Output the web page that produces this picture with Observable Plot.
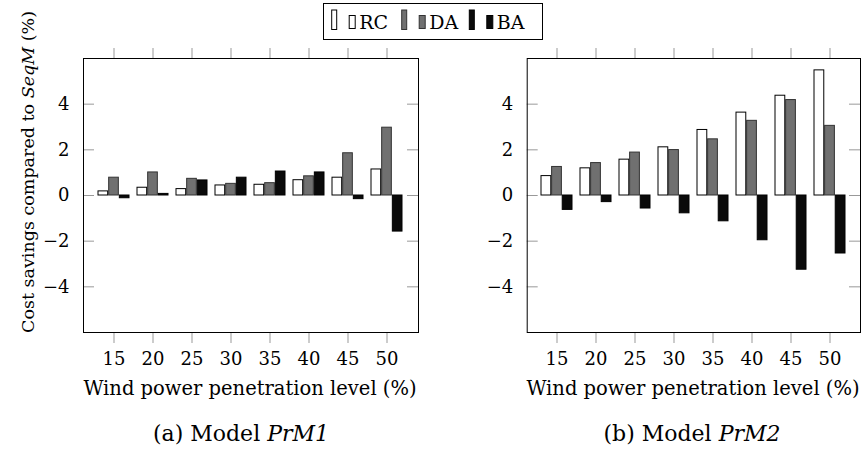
<!DOCTYPE html>
<html><head><meta charset="utf-8">
<script src="https://cdn.jsdelivr.net/npm/d3@7"></script>
<script src="https://cdn.jsdelivr.net/npm/@observablehq/plot@0.6"></script>
<style>
body{margin:0;background:#fff;width:861px;height:452px;overflow:hidden;position:relative;font-family:"DejaVu Serif",serif;color:#000}
#left,#right{position:absolute;top:0}
#left{left:0}
#right{left:430px}
#overlay{position:absolute;left:0;top:0;pointer-events:none}
#overlay text{font-family:"DejaVu Serif",serif;fill:#000}
</style></head><body>
<div id="left"></div>
<div id="right"></div>
<svg id="overlay" width="861" height="452"></svg>
<script>
// ---- data ----
const levels = [15, 20, 25, 30, 35, 40, 45, 50];
const series = ["RC", "DA", "BA"];
const prm1RC = [0.18, 0.34, 0.28, 0.44, 0.47, 0.67, 0.78, 1.14];
const prm1DA = [0.78, 1.01, 0.73, 0.51, 0.54, 0.84, 1.85, 2.97];
const prm1BA = [-0.12, 0.07, 0.66, 0.78, 1.05, 1.01, -0.16, -1.58];
const prm2RC = [0.85, 1.19, 1.57, 2.11, 2.87, 3.63, 4.37, 5.48];
const prm2DA = [1.25, 1.42, 1.88, 1.99, 2.46, 3.27, 4.18, 3.05];
const prm2BA = [-0.63, -0.29, -0.57, -0.78, -1.13, -1.96, -3.25, -2.54];
const yTicks = [-4, -2, 0, 2, 4];
const yDomain = [-6, 6];
const xLabel = "Wind power penetration level (%)";

// ---- styles ----
const fills = ["#ffffff", "#707070", "#0a0a0a"];
const strokes = ["#000000", "#333333", "#000000"];

function panel(vals, W, ml, mr) {
  const H = 400, mt = 58, mb = 68;
  const pw = W - ml - mr;
  const pi = 0.194, po = 0.316;
  const bw = pw / (levels.length - pi + 2 * po) * (1 - pi);
  const third = bw / 3;
  const bars = series.map((s, i) => {
    const rows = levels.map((l, j) => ({level: l, series: s, value: vals[i][j]}));
    return Plot.barY(rows, {
      x: "level", y: "value",
      fill: fills[i], stroke: strokes[i], strokeWidth: 1,
      insetLeft: i * third, insetRight: (2 - i) * third
    });
  });
  return Plot.plot({
    width: W, height: H,
    marginTop: mt, marginBottom: mb, marginLeft: ml, marginRight: mr,
    style: {fontFamily: "DejaVu Serif", fontSize: "18px", background: "transparent", overflow: "visible", color: "#000"},
    x: {type: "band", domain: levels, paddingInner: pi, paddingOuter: po},
    y: {domain: yDomain},
    marks: [
      ...bars,
      Plot.tickY(yTicks, {y: d => d, insetRight: pw - 11, stroke: "#999"}),
      Plot.tickY(yTicks, {y: d => d, insetLeft: pw - 11, stroke: "#999"}),
      Plot.axisX({anchor: "bottom", tickSize: 11, tickPadding: 9, stroke: "#999", fill: "#000", label: null}),
      Plot.axisX({anchor: "top", tickSize: 11, stroke: "#999", fill: "none", label: null}),
      Plot.axisY(yTicks, {anchor: "left", tickSize: 0, tickPadding: 14, fill: "#000", label: null}),
      Plot.frame({stroke: "#000"})
    ]
  });
}

document.getElementById("left").append(panel([prm1RC, prm1DA, prm1BA], 430, 83, 12));
document.getElementById("right").append(panel([prm2RC, prm2DA, prm2BA], 431, 96.7, 1));

// ---- labels, captions, legend (text) ----
const ov = d3.select("#overlay");
function txt(x, y, size, parts, rotate) {
  const t = ov.append("text")
    .attr("x", x).attr("y", y)
    .attr("text-anchor", "middle")
    .style("font-size", size + "px");
  if (rotate) t.attr("transform", `rotate(-90 ${x} ${y})`);
  parts.forEach(p => {
    t.append("tspan").text(p.t).style("font-style", p.i ? "italic" : "normal");
  });
  return t;
}
txt(250, 395, 19.5, [{t: xLabel}]);
txt(693, 395, 19.5, [{t: xLabel}]);
txt(241, 441, 22, [{t: "(a) Model "}, {t: "PrM1", i: true}]);
txt(692, 441, 22, [{t: "(b) Model "}, {t: "PrM2", i: true}]);
txt(34, 172, 17.5, [{t: "Cost savings compared to "}, {t: "SeqM", i: true}, {t: " (%)"}], true);

// legend
ov.append("rect").attr("x", 323.5).attr("y", 3.5).attr("width", 219).attr("height", 36)
  .attr("fill", "#fff").attr("stroke", "#000");
const legX = [331.7, 401.7, 469.3];
series.forEach((s, i) => {
  const x0 = legX[i];
  ov.append("rect").attr("x", x0).attr("y", 10).attr("width", 5).attr("height", 19.5)
    .attr("fill", fills[i]).attr("stroke", strokes[i]).attr("stroke-width", 1);
  ov.append("rect").attr("x", x0 + 17.5).attr("y", 15.5).attr("width", 6).attr("height", 13)
    .attr("fill", fills[i]).attr("stroke", strokes[i]).attr("stroke-width", 1);
  ov.append("text").attr("x", x0 + 27.5).attr("y", 28.5).style("font-size", "19px").text(s);
});
</script>
</body></html>
